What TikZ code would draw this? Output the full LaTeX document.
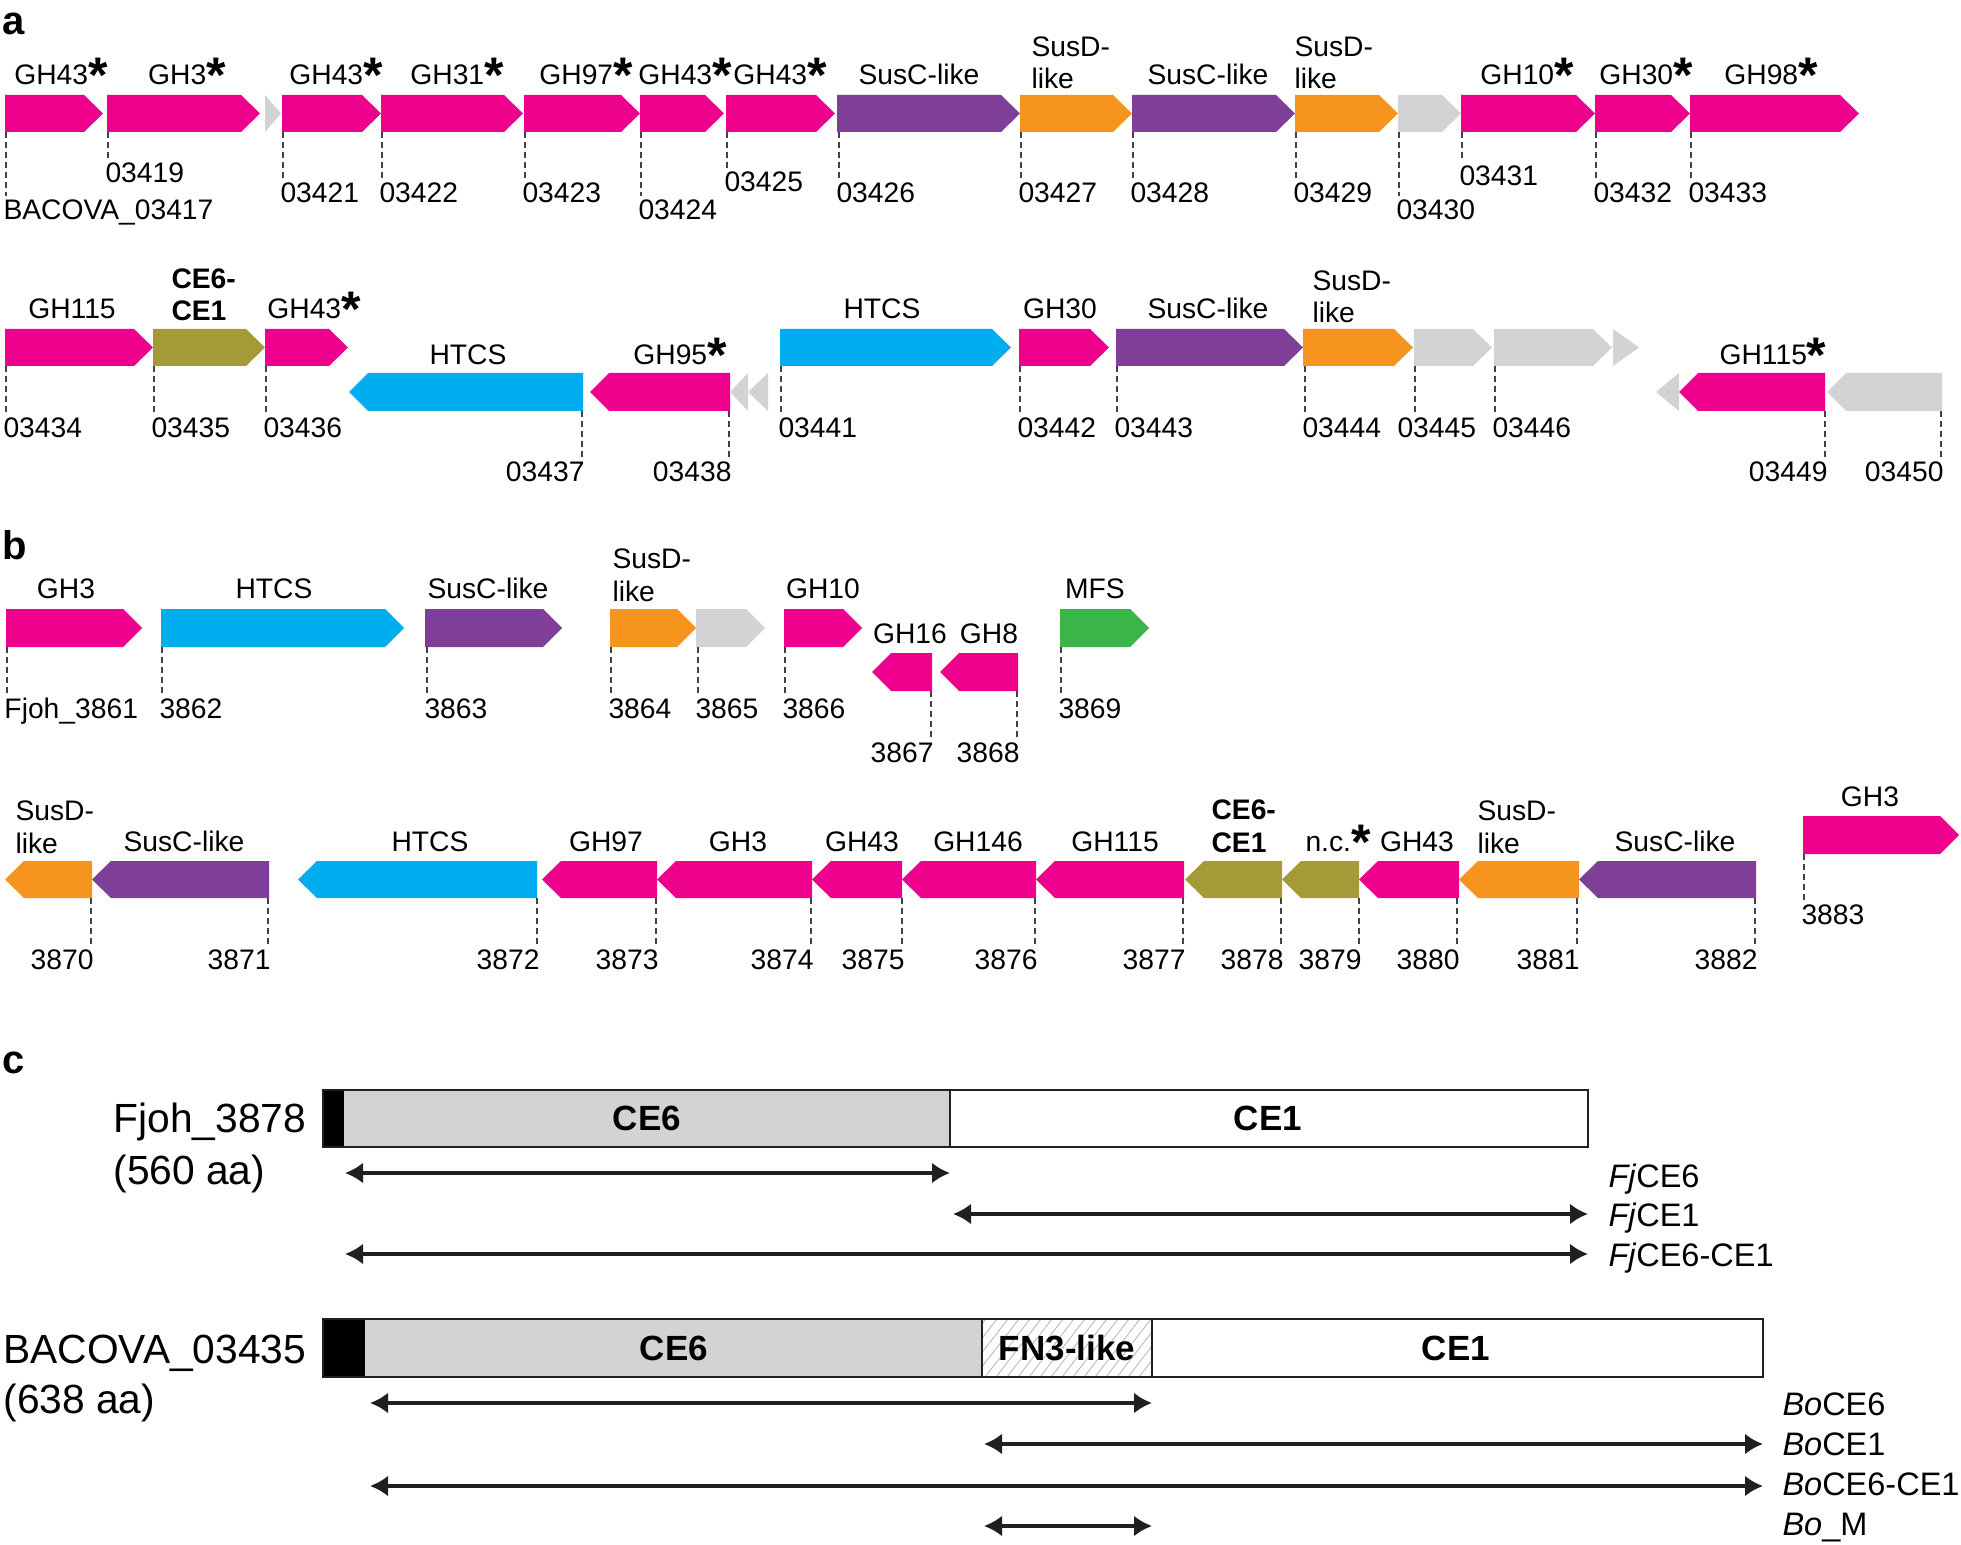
\documentclass[tikz,border=0pt]{standalone}
\usepackage{fontspec}
\setmainfont{Liberation Sans}
\usetikzlibrary{arrows.meta}
\definecolor{mag}{HTML}{EC008C}
\definecolor{pur}{HTML}{7F3F98}
\definecolor{ora}{HTML}{F7941D}
\definecolor{blu}{HTML}{00AEEF}
\definecolor{oli}{HTML}{A59B36}
\definecolor{lgr}{HTML}{D1D3D4}
\definecolor{grn}{HTML}{39B54A}
\definecolor{dk}{HTML}{231F20}
\newcommand{\tipl}{19}
\newcommand{\fgene}[5]{\fill[#5] (#1,#3) -- ({#2-\tipl},#3) -- (#2,{(#3+#4)/2}) -- ({#2-\tipl},#4) -- (#1,#4) -- cycle;}
\newcommand{\rgene}[5]{\fill[#5] (#1,{(#3+#4)/2}) -- ({#1+\tipl},#3) -- (#2,#3) -- (#2,#4) -- ({#1+\tipl},#4) -- cycle;}
\newcommand{\ftri}[5]{\fill[#5] (#1,#3) -- (#2,{(#3+#4)/2}) -- (#1,#4) -- cycle;}
\newcommand{\rtri}[5]{\fill[#5] (#1,{(#3+#4)/2}) -- (#2,#3) -- (#2,#4) -- cycle;}
% forward locus: name, x, line start, label centre, text
\newcommand{\locf}[5]{\draw[locus] ({#2+1},#3) -- ({#2+1},{#4-14}); \node[loclab,anchor=base west] (#1) at ({#2-2},{#4+10}) {#5};}
\newcommand{\locr}[5]{\draw[locus] ({#2-1},#3) -- ({#2-1},{#4-14}); \node[loclab,anchor=base east] (#1) at ({#2+2},{#4+10}) {#5};}
\newcommand{\st}{\raisebox{-3.2pt}{\fontsize{20}{20}\selectfont\bfseries *}}
\begin{document}
\begin{tikzpicture}[x=0.4pt,y=-0.4pt,
  locus/.style={draw=dk!85,line width=0.5pt,dash pattern=on 2.4pt off 1.6pt},
  loclab/.style={inner sep=0pt,font=\fontsize{11.3}{12.8}\selectfont},
  glab/.style={inner sep=0pt,anchor=base,font=\fontsize{11.3}{12.8}\selectfont},
  glab2/.style={inner sep=0pt,anchor=base west,align=left,font=\fontsize{11.3}{13}\selectfont},
  glabb/.style={inner sep=0pt,anchor=base west,align=left,font=\fontsize{11.3}{13}\selectfont\bfseries},
  panel/.style={inner sep=0pt,anchor=base west,font=\fontsize{16}{16}\selectfont\bfseries},
  dom/.style={inner sep=0pt,font=\fontsize{14}{14}\selectfont\bfseries},
  protlab/.style={inner sep=0pt,anchor=base west,font=\fontsize{16.3}{18}\selectfont},
  dimlab/.style={inner sep=0pt,anchor=base west,font=\fontsize{13}{14}\selectfont},
  dimarrow/.style={draw=dk,line width=1.4pt,{Latex[length=7.2pt,width=8.4pt]}-{Latex[length=7.2pt,width=8.4pt]}}
]
\useasboundingbox[fill=white] (0,0) rectangle (1961,1545);

% ---------------- panel a, row 1
\node[panel] (pa) at (2,35) {a};
\fgene{5}{103}{95}{132}{mag}
\fgene{107}{260}{95}{132}{mag}
\ftri{265}{281}{95}{132}{lgr}
\fgene{282}{381}{95}{132}{mag}
\fgene{381}{523}{95}{132}{mag}
\fgene{524}{640}{95}{132}{mag}
\fgene{640}{724}{95}{132}{mag}
\fgene{726}{835}{95}{132}{mag}
\fgene{837}{1020}{95}{132}{pur}
\fgene{1020}{1132}{95}{132}{ora}
\fgene{1132}{1295}{95}{132}{pur}
\fgene{1295}{1398}{95}{132}{ora}
\fgene{1398}{1461}{95}{132}{lgr}
\fgene{1461}{1595}{95}{132}{mag}
\fgene{1595}{1690}{95}{132}{mag}
\fgene{1690}{1859}{95}{132}{mag}

\node[glab] (ga1) at (61,85) {GH43\st};
\node[glab] (ga2) at (187,85) {GH3\st};
\node[glab] (ga3) at (336,85) {GH43\st};
\node[glab] (ga4) at (457,85) {GH31\st};
\node[glab] (ga5) at (586,85) {GH97\st};
\node[glab] (ga6) at (685,85) {GH43\st};
\node[glab] (ga7) at (780,85) {GH43\st};
\node[glab] (ga8) at (919,85) {SusC-like};
\node[glab2] (ga9) at (1031,89) {SusD-\\like};
\node[glab] (ga10) at (1208,85) {SusC-like};
\node[glab2] (ga11) at (1294,89) {SusD-\\like};
\node[glab] (ga12) at (1527,85) {GH10\st};
\node[glab] (ga13) at (1646,85) {GH30\st};
\node[glab] (ga14) at (1771,85) {GH98\st};

\locf{l03417}{5}{132}{210}{BACOVA\_03417}
\locf{l03419}{107}{132}{173}{03419}
\locf{l03421}{282}{132}{193}{03421}
\locf{l03422}{381}{132}{193}{03422}
\locf{l03423}{524}{132}{193}{03423}
\locf{l03424}{640}{132}{210}{03424}
\locf{l03425}{726}{132}{182}{03425}
\locf{l03426}{838}{132}{193}{03426}
\locf{l03427}{1020}{132}{193}{03427}
\locf{l03428}{1132}{132}{193}{03428}
\locf{l03429}{1295}{132}{193}{03429}
\locf{l03430}{1398}{132}{210}{03430}
\locf{l03431}{1461}{132}{176}{03431}
\locf{l03432}{1595}{132}{193}{03432}
\locf{l03433}{1690}{132}{193}{03433}

% ---------------- panel a, row 2
\fgene{5}{153}{329}{366}{mag}
\fgene{153}{265}{329}{366}{oli}
\fgene{265}{348}{329}{366}{mag}
\rgene{349}{583}{373}{411}{blu}
\rgene{590}{730}{373}{411}{mag}
\rtri{730}{748}{373}{411}{lgr}
\rtri{748}{768}{373}{411}{lgr}
\fgene{780}{1011}{329}{366}{blu}
\fgene{1019}{1109}{329}{366}{mag}
\fgene{1116}{1303}{329}{366}{pur}
\fgene{1303}{1413}{329}{366}{ora}
\fgene{1414}{1492}{329}{366}{lgr}
\fgene{1494}{1612}{329}{366}{lgr}
\ftri{1613}{1639}{329}{366}{lgr}
\rtri{1656}{1679}{373}{411}{lgr}
\rgene{1679}{1825}{373}{411}{mag}
\rgene{1827}{1942}{373}{411}{lgr}

\node[glab] (gb1) at (72,319) {GH115};
\node[glabb] (gb2) at (171,321) {CE6-\\CE1};
\node[glab] (gb3) at (314,319) {GH43\st};
\node[glab] (gb4) at (468,365) {HTCS};
\node[glab] (gb5) at (680,365) {GH95\st};
\node[glab] (gb6) at (882,319) {HTCS};
\node[glab] (gb7) at (1060,319) {GH30};
\node[glab] (gb8) at (1208,319) {SusC-like};
\node[glab2] (gb9) at (1312,323) {SusD-\\like};
\node[glab] (gb10) at (1773,365) {GH115\st};

\locf{l03434}{5}{366}{427}{03434}
\locf{l03435}{153}{366}{427}{03435}
\locf{l03436}{265}{366}{427}{03436}
\locr{l03437}{583}{411}{472}{03437}
\locr{l03438}{730}{411}{472}{03438}
\locf{l03441}{780}{366}{427}{03441}
\locf{l03442}{1019}{366}{427}{03442}
\locf{l03443}{1116}{366}{427}{03443}
\locf{l03444}{1304}{366}{427}{03444}
\draw[locus] (1415,366) -- (1415,413);
\node[loclab,anchor=base west] (l03445) at (1397,437) {03445};
\locf{l03446}{1494}{366}{427}{03446}
\locr{l03449}{1826}{411}{472}{03449}
\locr{l03450}{1942}{411}{472}{03450}

% ---------------- panel b, row 1
\node[panel] (pb) at (2,559) {b};
\fgene{6}{142}{609}{647}{mag}
\fgene{161}{404}{609}{647}{blu}
\fgene{425}{562}{609}{647}{pur}
\fgene{610}{696}{609}{647}{ora}
\fgene{696}{765}{609}{647}{lgr}
\fgene{784}{862}{609}{647}{mag}
\rgene{872}{932}{653}{691}{mag}
\rgene{940}{1018}{653}{691}{mag}
\fgene{1060}{1149}{609}{647}{grn}

\node[glab] (gc1) at (66,598) {GH3};
\node[glab] (gc2) at (274,598) {HTCS};
\node[glab] (gc3) at (488,598) {SusC-like};
\node[glab2] (gc4) at (612,601) {SusD-\\like};
\node[glab] (gc5) at (823,598) {GH10};
\node[glab] (gc6) at (910,643) {GH16};
\node[glab] (gc7) at (989,643) {GH8};
\node[glab] (gc8) at (1095,598) {MFS};

\locf{l3861}{6}{647}{708}{Fjoh\_3861}
\locf{l3862}{161}{647}{708}{3862}
\locf{l3863}{426}{647}{708}{3863}
\locf{l3864}{610}{647}{708}{3864}
\locf{l3865}{697}{647}{708}{3865}
\locf{l3866}{784}{647}{708}{3866}
\locr{l3867}{932}{691}{752}{3867}
\locr{l3868}{1018}{691}{752}{3868}
\locf{l3869}{1060}{647}{708}{3869}

% ---------------- panel b, row 2
\rgene{5}{92}{861}{898}{ora}
\rgene{92}{269}{861}{898}{pur}
\rgene{298}{537}{861}{898}{blu}
\rgene{542}{657}{861}{898}{mag}
\rgene{657}{812}{861}{898}{mag}
\rgene{812}{902}{861}{898}{mag}
\rgene{902}{1036}{861}{898}{mag}
\rgene{1036}{1184}{861}{898}{mag}
\rgene{1185}{1282}{861}{898}{oli}
\rgene{1282}{1359}{861}{898}{oli}
\rgene{1359}{1459}{861}{898}{mag}
\rgene{1459}{1579}{861}{898}{ora}
\rgene{1579}{1756}{861}{898}{pur}
\fgene{1803}{1959}{816}{854}{mag}

\node[glab2] (gd1) at (15,853) {SusD-\\like};
\node[glab] (gd2) at (184,851) {SusC-like};
\node[glab] (gd3) at (430,851) {HTCS};
\node[glab] (gd4) at (606,851) {GH97};
\node[glab] (gd5) at (738,851) {GH3};
\node[glab] (gd6) at (862,851) {GH43};
\node[glab] (gd7) at (978,851) {GH146};
\node[glab] (gd8) at (1115,851) {GH115};
\node[glabb] (gd9) at (1211,852) {CE6-\\CE1};
\node[glab] (gd10) at (1338,851) {n.c.\st};
\node[glab] (gd11) at (1417,851) {GH43};
\node[glab2] (gd12) at (1477,853) {SusD-\\like};
\node[glab] (gd13) at (1675,851) {SusC-like};
\node[glab] (gd14) at (1870,806) {GH3};

\locr{l3870}{92}{898}{959}{3870}
\locr{l3871}{269}{898}{959}{3871}
\locr{l3872}{538}{898}{959}{3872}
\locr{l3873}{657}{898}{959}{3873}
\locr{l3874}{812}{898}{959}{3874}
\locr{l3875}{903}{898}{959}{3875}
\locr{l3876}{1036}{898}{959}{3876}
\locr{l3877}{1184}{898}{959}{3877}
\locr{l3878}{1282}{898}{959}{3878}
\locr{l3879}{1360}{898}{959}{3879}
\locr{l3880}{1458}{898}{959}{3880}
\locr{l3881}{1578}{898}{959}{3881}
\locr{l3882}{1756}{898}{959}{3882}
\locf{l3883}{1803}{854}{914}{3883}

% ---------------- panel c
\node[panel] (pc) at (2,1073) {c};
% Fjoh_3878
\fill[lgr] (344,1090) rectangle (950,1147);
\fill[black] (323,1090) rectangle (344,1147);
\draw[dk,line width=0.7pt] (950,1090) -- (950,1147);
\draw[dk,line width=1.1pt] (323,1090) rectangle (1588,1147);
\node[dom] (fce6) at (647,1118) {CE6};
\node[dom] (fce1) at (1268,1118) {CE1};
\node[protlab] (fj) at (113,1132) {Fjoh\_3878};
\node[protlab] (fjaa) at (113,1184) {(560 aa)};
\coordinate (f1a) at (345,1173); \coordinate (f1b) at (950,1173);
\coordinate (f2a) at (953,1214); \coordinate (f2b) at (1588,1214);
\coordinate (f3a) at (345,1254); \coordinate (f3b) at (1588,1254);
\draw[dimarrow] (f1a) -- (f1b);
\draw[dimarrow] (f2a) -- (f2b);
\draw[dimarrow] (f3a) -- (f3b);
\node[dimlab] (fl1) at (1608,1187) {\textit{Fj}CE6};
\node[dimlab] (fl2) at (1608,1226) {\textit{Fj}CE1};
\node[dimlab] (fl3) at (1608,1266) {\textit{Fj}CE6-CE1};
% BACOVA_03435
\fill[lgr] (365,1319) rectangle (982,1377);
\fill[black] (323,1319) rectangle (365,1377);
\begin{scope}
\clip (982,1319) rectangle (1152,1377);
\foreach \i in {0,...,22} \draw[gray!60,line width=0.3pt] ({930+\i*11},1377) -- ({975+\i*11},1319);
\end{scope}
\draw[dk,line width=0.7pt] (982,1319) -- (982,1377) (1152,1319) -- (1152,1377);
\draw[dk,line width=1.1pt] (323,1319) rectangle (1763,1377);
\node[dom] (bce6) at (674,1348) {CE6};
\node[dom] (bfn3) at (1067,1348) {FN3-like};
\node[dom] (bce1) at (1456,1348) {CE1};
\node[protlab] (bo) at (3,1363) {BACOVA\_03435};
\node[protlab] (boaa) at (3,1413) {(638 aa)};
\coordinate (b1a) at (370,1403); \coordinate (b1b) at (1152,1403);
\coordinate (b2a) at (984,1444); \coordinate (b2b) at (1763,1444);
\coordinate (b3a) at (370,1486); \coordinate (b3b) at (1763,1486);
\coordinate (b4a) at (984,1526); \coordinate (b4b) at (1152,1526);
\draw[dimarrow] (b1a) -- (b1b);
\draw[dimarrow] (b2a) -- (b2b);
\draw[dimarrow] (b3a) -- (b3b);
\draw[dimarrow] (b4a) -- (b4b);
\node[dimlab] (bl1) at (1782,1415) {\textit{Bo}CE6};
\node[dimlab] (bl2) at (1782,1455) {\textit{Bo}CE1};
\node[dimlab] (bl3) at (1782,1495) {\textit{Bo}CE6-CE1};
\node[dimlab] (bl4) at (1782,1535) {\textit{Bo}\_M};
\end{tikzpicture}
\end{document}
